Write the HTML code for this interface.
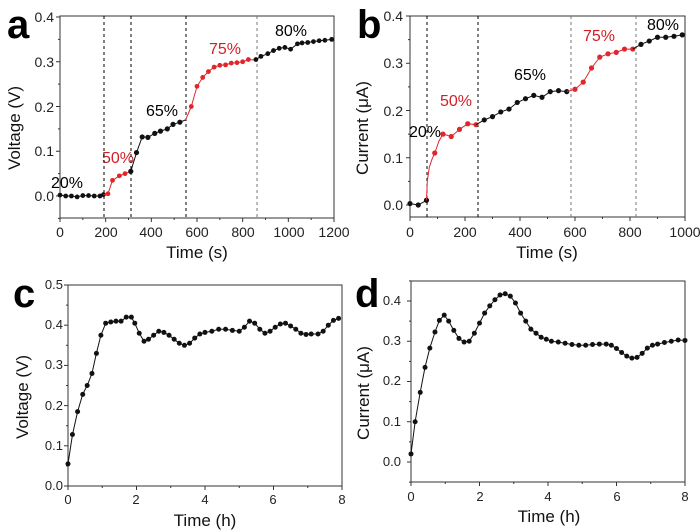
<!DOCTYPE html>
<html><head><meta charset="utf-8"><style>
html,body{margin:0;padding:0;background:#fff;}
svg{display:block;font-family:"Liberation Sans",Arial,sans-serif;}
.t{font-size:14px;fill:#222;}
.tc{font-size:13px;fill:#222;}
.ti{font-size:17px;fill:#111;}
.L{font-size:40px;font-weight:bold;fill:#000;}
.p{font-size:16px;}
</style></head><body>
<svg id="s" width="700" height="532" viewBox="0 0 700 532" xmlns="http://www.w3.org/2000/svg">
<rect width="700" height="532" fill="#fff"/>
<!-- panel a -->
<rect x="60" y="16" width="274" height="202" fill="none" stroke="#333" stroke-width="1"/>
<text class="L" x="7" y="38">a</text>
<g class="t" text-anchor="end">
<text x="54" y="201">0.0</text><text x="54" y="156">0.1</text><text x="54" y="112">0.2</text><text x="54" y="67">0.3</text><text x="54" y="22">0.4</text>
</g>
<g class="t" text-anchor="middle">
<text x="60" y="237">0</text><text x="106" y="237">200</text><text x="151" y="237">400</text><text x="197" y="237">600</text><text x="243" y="237">800</text><text x="289" y="237">1000</text><text x="334" y="237">1200</text>
</g>
<text class="ti" x="197" y="258" text-anchor="middle">Time (s)</text>
<text class="ti" transform="translate(20,128) rotate(-90)" text-anchor="middle">Voltage (V)</text>
<text class="p" x="67" y="188" text-anchor="middle" fill="#000">20%</text>
<text class="p" x="118" y="163" text-anchor="middle" fill="#d21f26">50%</text>
<text class="p" x="162" y="116" text-anchor="middle" fill="#000">65%</text>
<text class="p" x="225" y="54" text-anchor="middle" fill="#d21f26">75%</text>
<text class="p" x="291" y="36" text-anchor="middle" fill="#000">80%</text>
<!-- panel b -->
<rect x="410" y="16" width="275" height="201" fill="none" stroke="#333" stroke-width="1"/>
<text class="L" x="357" y="38">b</text>
<g class="t" text-anchor="end">
<text x="403" y="210">0.0</text><text x="403" y="163">0.1</text><text x="403" y="116">0.2</text><text x="403" y="68">0.3</text><text x="403" y="21">0.4</text>
</g>
<g class="t" text-anchor="middle">
<text x="410" y="237">0</text><text x="465" y="237">200</text><text x="520" y="237">400</text><text x="575" y="237">600</text><text x="630" y="237">800</text><text x="685" y="237">1000</text>
</g>
<text class="ti" x="547" y="258" text-anchor="middle">Time (s)</text>
<text class="ti" transform="translate(368,128) rotate(-90)" text-anchor="middle">Current (μA)</text>
<text class="p" x="425" y="137" text-anchor="middle" fill="#000">20%</text>
<text class="p" x="456" y="106" text-anchor="middle" fill="#d21f26">50%</text>
<text class="p" x="530" y="80" text-anchor="middle" fill="#000">65%</text>
<text class="p" x="599" y="41" text-anchor="middle" fill="#d21f26">75%</text>
<text class="p" x="663" y="30" text-anchor="middle" fill="#000">80%</text>
<!-- panel c -->
<rect x="68" y="285" width="274" height="201" fill="none" stroke="#333" stroke-width="1"/>
<text class="L" x="13" y="307">c</text>
<g class="tc" text-anchor="end">
<text x="63" y="490">0.0</text><text x="63" y="450">0.1</text><text x="63" y="410">0.2</text><text x="63" y="369">0.3</text><text x="63" y="329">0.4</text><text x="63" y="289">0.5</text>
</g>
<g class="tc" text-anchor="middle">
<text x="68" y="504">0</text><text x="136" y="504">2</text><text x="205" y="504">4</text><text x="273" y="504">6</text><text x="342" y="504">8</text>
</g>
<text class="ti" x="205" y="526" text-anchor="middle">Time (h)</text>
<text class="ti" transform="translate(28,397) rotate(-90)" text-anchor="middle">Voltage (V)</text>
<!-- panel d -->
<rect x="411" y="281" width="274" height="201" fill="none" stroke="#333" stroke-width="1"/>
<text class="L" x="355" y="307">d</text>
<g class="tc" text-anchor="end">
<text x="401" y="466">0.0</text><text x="401" y="426">0.1</text><text x="401" y="385">0.2</text><text x="401" y="345">0.3</text><text x="401" y="305">0.4</text>
</g>
<g class="tc" text-anchor="middle">
<text x="411" y="501">0</text><text x="480" y="501">2</text><text x="548" y="501">4</text><text x="617" y="501">6</text><text x="685" y="501">8</text>
</g>
<text class="ti" x="549" y="522" text-anchor="middle">Time (h)</text>
<text class="ti" transform="translate(369,393) rotate(-90)" text-anchor="middle">Current (μA)</text>
<g id="g"></g>
</svg>
<script>
var NS="http://www.w3.org/2000/svg",G=document.getElementById('g');
function el(n,a){var e=document.createElementNS(NS,n);for(var k in a)e.setAttribute(k,a[k]);G.appendChild(e);return e;}
function ticks(x0,y0,x1,y1,xs,ys){
 xs.forEach(function(t){el('line',{x1:t[0],y1:y1,x2:t[0],y2:y1+(t[1]?4:2),stroke:'#333'});});
 ys.forEach(function(t){el('line',{x1:x0,y1:t[0],x2:x0-(t[1]?4:2),y2:t[0],stroke:'#333'});});
}
function rng(a,b,s,f){var r=[];for(var v=a;v<=b+1e-9;v+=s)r.push(f(v));return r;}
var ax=function(t){return 60+t*274/1200},ay=function(v){return 196-447.5*v};
ticks(60,16,334,218,rng(0,1200,100,function(t){return [ax(t),t%200==0]}),rng(-0.05,0.4,0.05,function(v){return [ay(v),Math.abs(Math.round(v*20))%2==0]}));
var bx=function(t){return 410+t*0.275},by=function(v){return 205-472.5*v};
ticks(410,16,685,217,rng(0,1000,100,function(t){return [bx(t),t%200==0]}),rng(0,0.4,0.05,function(v){return [by(v),Math.round(v*20)%2==0]}));
var cx=function(t){return 68+t*34.25},cy=function(v){return 486-402*v};
ticks(68,285,342,486,rng(0,8,1,function(t){return [cx(t),t%2==0]}),rng(0,0.5,0.05,function(v){return [cy(v),Math.round(v*20)%2==0]}));
var dx=function(t){return 411+t*34.25},dy=function(v){return 462-402.5*v};
ticks(411,281,685,482,rng(0,8,1,function(t){return [dx(t),t%2==0]}),rng(-0.05,0.45,0.05,function(v){return [dy(v),Math.abs(Math.round(v*20))%2==0]}));
function dash(x,y0,y1,c){el('line',{x1:x,y1:y0,x2:x,y2:y1,stroke:c||'#000','stroke-dasharray':'3,3','stroke-width':1});}
[104,131,186].forEach(function(x){dash(x,16,218);});dash(257,16,218,'#777');
[427,478].forEach(function(x){dash(x,16,217);});dash(571,16,217,'#777');dash(636,16,217,'#777');
function series(d,fx,fy,col,r){
 var pts=d.map(function(p){return fx(p[0]).toFixed(1)+','+fy(p[1]).toFixed(1)}).join(' ');
 el('polyline',{points:pts,fill:'none',stroke:col,'stroke-width':1});
 d.forEach(function(p){if(!p[2])el('circle',{cx:fx(p[0]),cy:fy(p[1]),r:r,fill:col});});
}
var K='#111',R='#e0262b';
series([[0,0.002],[25,0],[50,0],[75,-0.002],[100,0.001],[125,0.001],[150,0],[175,0],[190,0.003]],ax,ay,K,2.4);
series([[190,0.003,1],[210,0.005],[230,0.035],[260,0.045],[285,0.05],[310,0.055,1]],ax,ay,R,2.4);
series([[310,0.055],[335,0.097],[360,0.132],[385,0.131],[415,0.14],[440,0.145],[470,0.15],[495,0.16],[525,0.165],[550,0.17,1]],ax,ay,K,2.6);
series([[550,0.17,1],[575,0.2],[600,0.245],[625,0.265],[650,0.278],[675,0.288],[700,0.292],[725,0.293],[750,0.297],[775,0.298],[800,0.3],[825,0.305],[855,0.304,1]],ax,ay,R,2.4);
series([[858,0.305],[880,0.312],[910,0.318],[935,0.325],[960,0.33],[985,0.332],[1010,0.328],[1040,0.34],[1060,0.342],[1085,0.343],[1110,0.345],[1135,0.347],[1160,0.348],[1190,0.35]],ax,ay,K,2.4);
series([[0,0.003],[30,0],[60,0.01]],bx,by,K,2.6);
series([[60,0.01,1],[63,0.05,1],[70,0.08,1],[80,0.097,1],[90,0.11],[105,0.135,1],[120,0.15],[150,0.145],[180,0.16],[210,0.172],[240,0.17]],bx,by,R,2.6);
series([[240,0.17,1],[270,0.18],[300,0.187],[330,0.197],[360,0.203],[390,0.217],[420,0.225],[450,0.232],[480,0.228],[510,0.24],[540,0.242],[570,0.24]],bx,by,K,2.6);
series([[570,0.24,1],[600,0.245],[630,0.26],[660,0.29],[690,0.313],[720,0.32],[750,0.323],[780,0.33],[810,0.33]],bx,by,R,2.6);
series([[810,0.33,1],[840,0.34],[870,0.347],[900,0.355],[930,0.355],[960,0.357],[990,0.36]],bx,by,K,2.6);
series([[0,0.055],[0.13,0.128],[0.28,0.185],[0.43,0.228],[0.56,0.25],[0.7,0.28],[0.83,0.33],[0.96,0.375],[1.1,0.405],[1.25,0.408],[1.4,0.41],[1.55,0.41],[1.7,0.42],[1.85,0.42],[1.95,0.405],[2.08,0.38],[2.22,0.36],[2.35,0.365],[2.5,0.375],[2.65,0.385],[2.8,0.382],[2.95,0.375],[3.1,0.365],[3.25,0.355],[3.4,0.35],[3.55,0.355],[3.7,0.368],[3.85,0.378],[4.0,0.382],[4.2,0.385],[4.4,0.39],[4.6,0.39],[4.8,0.387],[5.0,0.385],[5.15,0.395],[5.3,0.41],[5.45,0.405],[5.6,0.39],[5.75,0.38],[5.9,0.385],[6.05,0.395],[6.2,0.403],[6.35,0.405],[6.5,0.398],[6.65,0.39],[6.8,0.38],[6.95,0.377],[7.1,0.378],[7.3,0.378],[7.45,0.385],[7.6,0.4],[7.75,0.412],[7.9,0.417]],cx,cy,K,2.5);
series([[0,0.02],[0.12,0.1],[0.27,0.173],[0.41,0.235],[0.55,0.283],[0.7,0.323],[0.83,0.352],[0.97,0.365],[1.1,0.35],[1.25,0.327],[1.4,0.307],[1.55,0.298],[1.7,0.3],[1.85,0.32],[2.0,0.345],[2.15,0.37],[2.3,0.388],[2.45,0.403],[2.6,0.415],[2.75,0.418],[2.9,0.412],[3.05,0.395],[3.2,0.37],[3.35,0.35],[3.5,0.33],[3.65,0.32],[3.8,0.31],[3.95,0.305],[4.1,0.3],[4.3,0.298],[4.5,0.295],[4.7,0.292],[4.9,0.29],[5.1,0.29],[5.3,0.292],[5.5,0.293],[5.7,0.293],[5.85,0.29],[6.0,0.282],[6.15,0.272],[6.3,0.263],[6.45,0.258],[6.6,0.26],[6.75,0.27],[6.9,0.283],[7.05,0.29],[7.2,0.293],[7.4,0.297],[7.6,0.3],[7.8,0.303],[8,0.302]],dx,dy,K,2.5);
</script>
</body></html>
